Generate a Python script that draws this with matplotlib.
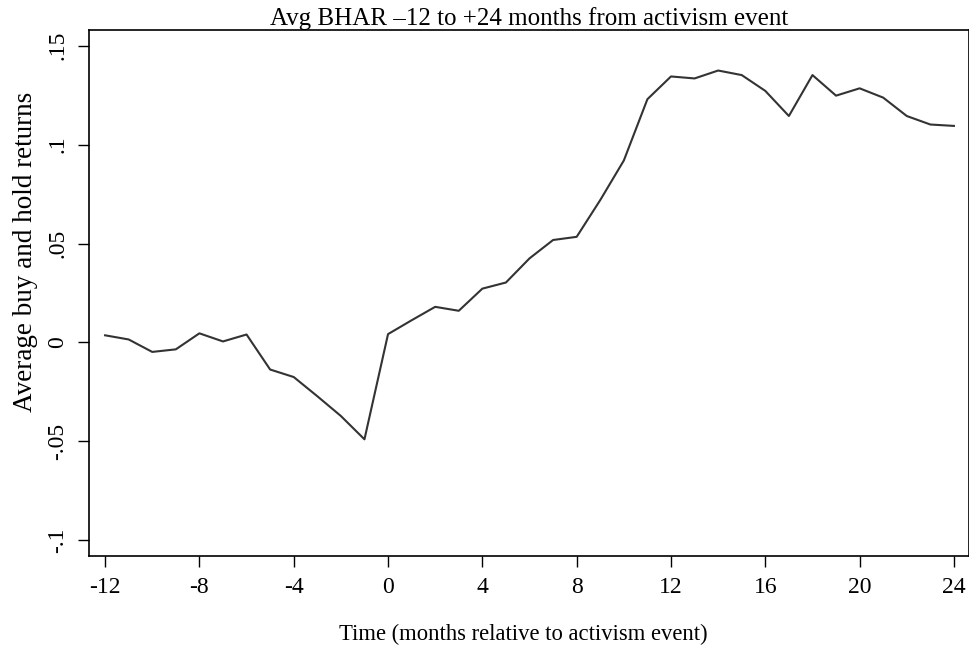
import matplotlib
matplotlib.use('Agg')
import matplotlib.pyplot as plt

# Данные: месяцы относительно события и средний BHAR
months = list(range(-12, 25))
bhar = [0.0036, 0.0015, -0.0048, -0.0035, 0.0046, 0.0005, 0.0040, -0.0137, -0.0175,
        -0.0272, -0.0372, -0.0490, 0.0042, 0.0112, 0.0180, 0.0160, 0.0272, 0.0303,
        0.0425, 0.0518, 0.0534, 0.0720, 0.0920, 0.1230, 0.1345, 0.1335, 0.1375,
        0.1352, 0.1272, 0.1145, 0.1352, 0.1248, 0.1285, 0.1238, 0.1145, 0.1102, 0.1095]

x_ticks = [-12, -8, -4, 0, 4, 8, 12, 16, 20, 24]
x_labels = ['-12', '-8', '-4', '0', '4', '8', '12', '16', '20', '24']
y_ticks = [-0.1, -0.05, 0, 0.05, 0.1, 0.15]
y_labels = ['-.1', '-.05', '0', '.05', '.1', '.15']

plt.rcParams['font.family'] = ['Liberation Serif', 'DejaVu Serif']
plt.rcParams['axes.unicode_minus'] = False

fig = plt.figure(figsize=(9.7, 6.45), dpi=100)
ax = fig.add_axes([0.0918, 0.138, 0.9072, 0.8155])
ax.plot(months, bhar, color='#333333', linewidth=1.5)

ax.set_xlim(-12.68, 24.64)
ax.set_ylim(-0.108, 0.158)
ax.set_xticks(x_ticks)
ax.set_xticklabels(x_labels)
ax.set_yticks(y_ticks)
ax.set_yticklabels(y_labels, rotation=90, va='center')
ax.tick_params(axis='both', direction='out', length=8, width=1, labelsize=17, pad=7)

for s in ax.spines.values():
    s.set_linewidth(1.2)

ax.set_title('Avg BHAR \u201312 to +24 months from activism event', fontsize=18, pad=1)
ax.set_xlabel('Time (months relative to activism event)', fontsize=16.3)
ax.xaxis.set_label_coords(0.493, -0.129)
ax.set_ylabel('Average buy and hold returns', fontsize=19.5)
ax.yaxis.set_label_coords(-0.058, 0.578)

fig.savefig('out.png', dpi=100)
